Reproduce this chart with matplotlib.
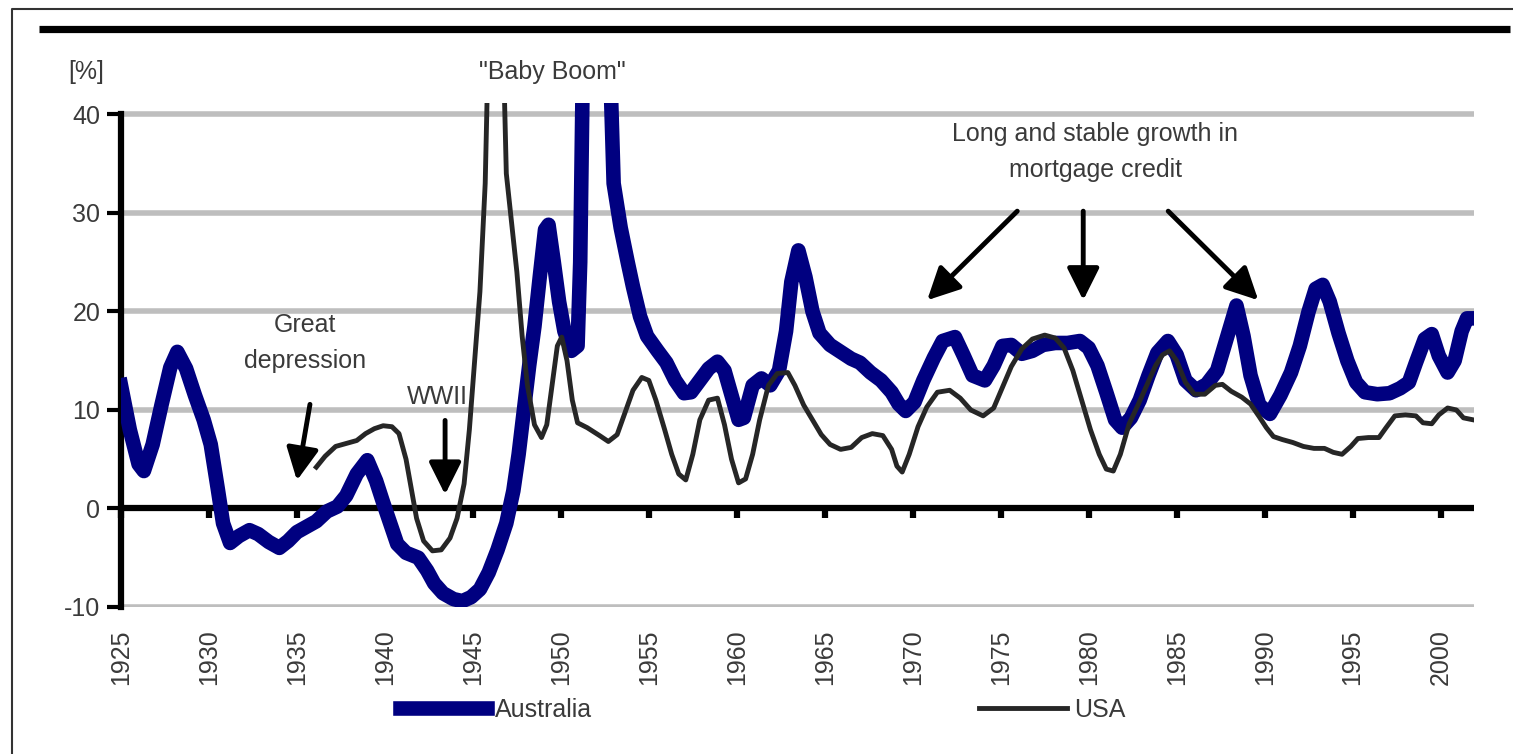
import matplotlib
matplotlib.use('Agg')
import matplotlib.pyplot as plt
from matplotlib.lines import Line2D

plt.rcParams['font.family'] = ['Liberation Sans', 'DejaVu Sans']
plt.rcParams['axes.unicode_minus'] = False

# growth in mortgage credit, %
aus_years = [1925.0, 1925.5, 1926.0, 1926.3, 1926.8, 1927.3, 1927.8, 1928.2, 1928.7, 1929.2,
             1929.7, 1930.1, 1930.5, 1930.8, 1931.2, 1931.7, 1932.3, 1932.8, 1933.4, 1934.0,
             1934.5, 1935.0, 1935.5, 1936.1, 1936.7, 1937.3, 1937.8, 1938.4, 1939.0, 1939.5,
             1939.9, 1940.3, 1940.7, 1941.2, 1941.9, 1942.4, 1942.8, 1943.3, 1943.9, 1944.4,
             1944.9, 1945.4, 1945.9, 1946.4, 1946.9, 1947.3, 1947.6, 1947.9, 1948.2, 1948.5,
             1948.8, 1949.1, 1949.3, 1949.6, 1949.9, 1950.2, 1950.6, 1950.95, 1951.1, 1951.25,
             1952.0, 1952.8, 1953.0, 1953.4, 1953.8, 1954.1, 1954.5, 1954.9, 1955.5, 1956.0,
             1956.5, 1957.0, 1957.4, 1957.9, 1958.4, 1958.9, 1959.3, 1959.7, 1960.1, 1960.4,
             1960.9, 1961.4, 1961.9, 1962.4, 1962.8, 1963.1, 1963.5, 1963.9, 1964.3, 1964.7,
             1965.3, 1965.9, 1966.5, 1967.0, 1967.6, 1968.2, 1968.8, 1969.2, 1969.6, 1970.1,
             1970.6, 1971.2, 1971.7, 1972.4, 1972.9, 1973.4, 1974.1, 1974.6, 1975.1, 1975.6,
             1976.2, 1976.8, 1977.4, 1978.1, 1978.8, 1979.5, 1980.0, 1980.5, 1981.0, 1981.5,
             1981.9, 1982.4, 1982.9, 1983.4, 1983.9, 1984.5, 1985.0, 1985.5, 1986.1, 1986.7,
             1987.3, 1987.8, 1988.4, 1988.8, 1989.2, 1989.7, 1990.3, 1990.9, 1991.5, 1992.0,
             1992.5, 1992.9, 1993.3, 1993.7, 1994.2, 1994.7, 1995.2, 1995.7, 1996.4, 1997.1,
             1997.7, 1998.2, 1998.6, 1999.1, 1999.5, 1999.9, 2000.4, 2000.8, 2001.2, 2001.5,
             2001.85]
aus_vals = [12.5, 8.0, 4.5, 3.8, 6.5, 10.5, 14.3, 15.9, 14.2, 11.5,
            9.0, 6.5, 2.0, -1.5, -3.5, -2.8, -2.2, -2.6, -3.4, -4.0,
            -3.3, -2.4, -1.9, -1.3, -0.3, 0.2, 1.3, 3.5, 4.9, 2.8,
            0.6, -1.5, -3.6, -4.5, -5.0, -6.3, -7.6, -8.6, -9.2, -9.4,
            -9.0, -8.2, -6.5, -4.2, -1.5, 1.8, 5.5, 10.0, 14.5, 18.5,
            23.5, 28.3, 28.8, 25.0, 21.0, 18.0, 16.0, 16.5, 25.0, 45.0,
            70.0, 45.0, 33.0, 28.5, 25.0, 22.5, 19.5, 17.5, 16.0, 14.8,
            13.0, 11.7, 11.8, 13.0, 14.2, 14.9, 14.0, 11.5, 9.0, 9.2,
            12.5, 13.2, 12.5, 14.0, 18.0, 23.0, 26.2, 23.5, 20.0, 17.8,
            16.6, 15.9, 15.2, 14.8, 13.8, 13.0, 11.8, 10.6, 9.9, 10.8,
            13.0, 15.3, 17.0, 17.4, 15.5, 13.5, 13.0, 14.5, 16.5, 16.6,
            15.7, 16.0, 16.6, 16.8, 16.8, 17.0, 16.3, 14.5, 11.8, 9.0,
            8.2, 9.2, 11.0, 13.5, 15.8, 17.0, 15.6, 13.0, 12.0, 12.6,
            14.0, 17.0, 20.6, 17.5, 13.5, 10.5, 9.6, 11.5, 13.8, 16.5,
            20.0, 22.3, 22.7, 21.0, 17.8, 15.0, 12.8, 11.8, 11.6, 11.7,
            12.2, 12.8, 14.8, 17.2, 17.7, 15.5, 13.8, 15.0, 18.0, 19.3,
            19.3]

usa_years = [1936.1, 1936.6, 1937.2, 1937.8, 1938.4, 1938.9, 1939.4, 1939.9, 1940.4, 1940.8,
             1941.2, 1941.5, 1941.8, 1942.2, 1942.7, 1943.2, 1943.7, 1944.1, 1944.5, 1944.8,
             1945.1, 1945.4, 1945.7, 1945.85, 1946.3, 1946.75, 1946.9, 1947.2, 1947.5, 1947.8,
             1948.1, 1948.5, 1948.9, 1949.2, 1949.5, 1949.8, 1950.05, 1950.35, 1950.65, 1950.95,
             1951.5, 1952.2, 1952.7, 1953.2, 1953.6, 1954.1, 1954.6, 1955.0, 1955.4, 1955.9,
             1956.3, 1956.7, 1957.1, 1957.5, 1957.9, 1958.4, 1958.9, 1959.3, 1959.7, 1960.1,
             1960.5, 1960.9, 1961.3, 1961.8, 1962.3, 1962.9, 1963.3, 1963.8, 1964.3, 1964.8,
             1965.3, 1965.9, 1966.5, 1967.1, 1967.7, 1968.3, 1968.8, 1969.1, 1969.4, 1969.8,
             1970.3, 1970.8, 1971.4, 1972.1, 1972.7, 1973.3, 1974.0, 1974.6, 1975.1, 1975.6,
             1976.2, 1976.8, 1977.5, 1978.1, 1978.6, 1979.1, 1979.6, 1980.1, 1980.6, 1981.0,
             1981.4, 1981.8, 1982.3, 1982.8, 1983.3, 1983.8, 1984.2, 1984.6, 1985.0, 1985.5,
             1986.0, 1986.6, 1987.2, 1987.6, 1988.1, 1988.7, 1989.2, 1989.7, 1990.1, 1990.5,
             1991.0, 1991.6, 1992.2, 1992.8, 1993.4, 1993.9, 1994.4, 1994.9, 1995.3, 1995.9,
             1996.5, 1996.9, 1997.4, 1998.0, 1998.6, 1999.0, 1999.5, 1999.9, 2000.4, 2000.9,
             2001.3, 2001.85]
usa_vals = [4.2, 5.3, 6.3, 6.6, 6.9, 7.6, 8.1, 8.4, 8.3, 7.6,
            5.0, 2.0, -1.0, -3.3, -4.3, -4.2, -3.0, -1.0, 2.5, 8.0,
            15.0, 22.0, 33.0, 45.0, 60.0, 45.0, 34.0, 29.0, 24.0, 17.5,
            12.5, 8.5, 7.2, 8.5, 12.5, 16.5, 17.4, 15.0, 11.0, 8.7,
            8.2, 7.4, 6.8, 7.5, 9.5, 12.0, 13.3, 13.0, 11.0, 8.0,
            5.5, 3.5, 2.9, 5.5, 9.0, 11.0, 11.2, 8.5, 5.0, 2.6,
            3.0, 5.5, 9.0, 12.5, 13.7, 13.8, 12.5, 10.5, 9.0, 7.5,
            6.5, 6.0, 6.2, 7.2, 7.6, 7.4, 6.0, 4.3, 3.7, 5.5,
            8.3, 10.3, 11.8, 12.0, 11.2, 10.0, 9.4, 10.2, 12.3, 14.4,
            16.2, 17.2, 17.6, 17.3, 16.3, 14.0, 11.0, 8.0, 5.5, 4.0,
            3.8, 5.5, 8.6, 10.5, 12.5, 14.5, 15.6, 16.0, 15.0, 12.8,
            11.6, 11.6, 12.5, 12.6, 11.9, 11.3, 10.6, 9.3, 8.2, 7.3,
            7.0, 6.7, 6.3, 6.1, 6.1, 5.7, 5.5, 6.3, 7.1, 7.2,
            7.2, 8.2, 9.4, 9.5, 9.4, 8.7, 8.6, 9.5, 10.2, 10.0,
            9.2, 9.0]

tick_years = list(range(1925, 2001, 5))
y_ticks = [-10, 0, 10, 20, 30, 40]
txt = '#3a3a3a'

fig = plt.figure(figsize=(15.13, 7.54), dpi=100)
fig.patch.set_facecolor('white')
ax = fig.add_axes([121 / 1513, 1 - 607 / 754, (1474 - 121) / 1513, (607 - 102.6) / 754])

ax.plot(aus_years, aus_vals, color='#000080', lw=10.5, solid_joinstyle='round', label='Australia', zorder=3)
ax.plot(usa_years, usa_vals, color='#262626', lw=3.5, solid_joinstyle='round', label='USA', zorder=4)

ax.set_xlim(1925, 2001.9)
ax.set_ylim(-10, 41.2)

# axes styling
for s in ['top', 'right', 'bottom']:
    ax.spines[s].set_visible(False)
ax.spines['left'].set_linewidth(4.5)
ax.spines['left'].set_bounds(-10, 40)
ax.set_yticks(y_ticks)
ax.tick_params(axis='y', length=10, width=3, pad=5, labelsize=18, labelcolor=txt)
ax.yaxis.grid(True, color='#bebebe', lw=4)
ax.set_axisbelow(True)

ax.set_xticks(tick_years)
ax.set_xticklabels([str(y) for y in tick_years], rotation=90)
ax.tick_params(axis='x', length=0, pad=16, labelsize=18, labelcolor=txt)

# zero line with tick marks
ax.axhline(0, color='black', lw=4.5, zorder=2)
sec = ax.secondary_xaxis(10 / 51.2)
sec.set_xticks(tick_years)
sec.tick_params(axis='x', direction='out', length=7, width=4.5, labelbottom=False)
for s in sec.spines.values():
    s.set_visible(False)

# annotations
arrow = dict(arrowstyle='-|>,head_length=1.4,head_width=0.7', mutation_scale=14,
             lw=3.5, color='black', shrinkA=0, shrinkB=0)
ax.text(1935.46, 16.8, 'Great\ndepression', ha='center', va='center', linespacing=1.6,
        fontsize=18, color=txt)
ax.annotate('', xy=(1935.0, 2.85), xytext=(1935.74, 10.57), arrowprops=arrow)
ax.text(1942.96, 11.3, 'WWII', ha='center', va='center', fontsize=18, color=txt)
ax.annotate('', xy=(1943.42, 1.42), xytext=(1943.42, 8.94), arrowprops=arrow)
ax.text(1980.37, 36.2, 'Long and stable growth in\nmortgage credit', ha='center', va='center',
        linespacing=1.6, fontsize=18, color=txt)
ax.annotate('', xy=(1970.82, 21.14), xytext=(1975.94, 30.18), arrowprops=arrow)
ax.annotate('', xy=(1979.69, 21.14), xytext=(1979.69, 30.18), arrowprops=arrow)
ax.annotate('', xy=(1989.64, 21.14), xytext=(1984.52, 30.18), arrowprops=arrow)

fig.text(86 / 1513, 1 - 72 / 754, '[%]', ha='center', va='center', fontsize=18, color=txt)
fig.text(552 / 1513, 1 - 72 / 754, '"Baby Boom"', ha='center', va='center', fontsize=18, color=txt)

fig.legend(loc='center', bbox_to_anchor=(0.504, 1 - 710 / 754), ncol=2, frameon=False,
           handlelength=3.5, handletextpad=0.3, columnspacing=15.5, fontsize=18, labelcolor=txt)

# page frame and heavy rule
fig.add_artist(Line2D([12 / 1513, 12 / 1513, 1.0], [0.0, 1 - 9 / 754, 1 - 9 / 754],
                      transform=fig.transFigure, color='#333333', lw=1.5))
fig.add_artist(Line2D([39 / 1513, 1510 / 1513], [1 - 28.5 / 754, 1 - 28.5 / 754],
                      transform=fig.transFigure, color='black', lw=5.2, solid_capstyle='butt'))

fig.savefig('out.png', dpi=100)
